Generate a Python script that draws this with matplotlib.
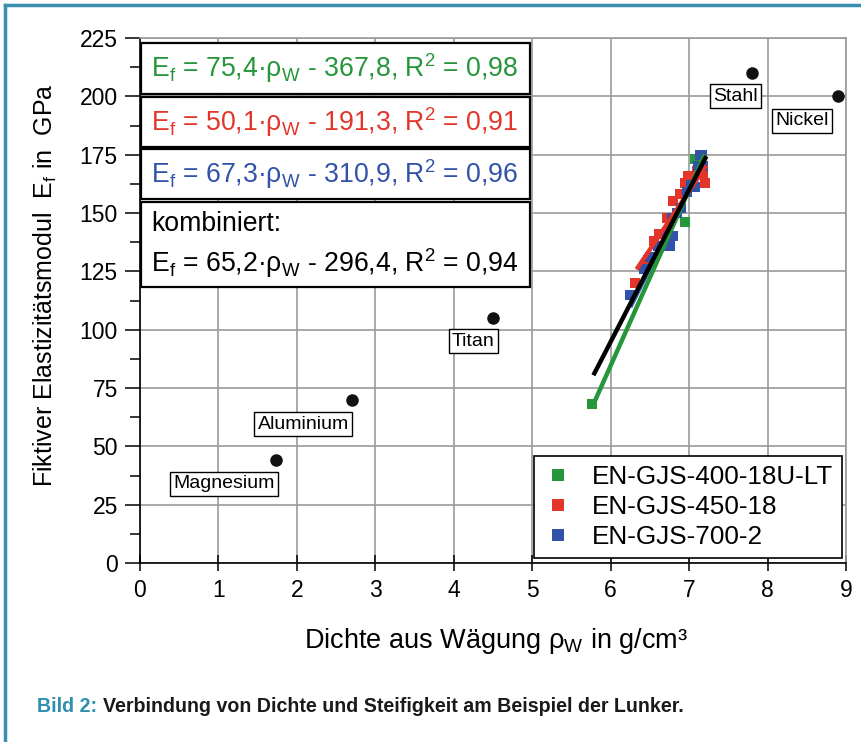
import matplotlib
matplotlib.use("Agg")
import matplotlib.pyplot as plt
from matplotlib.lines import Line2D
from matplotlib.patches import Rectangle
import numpy as np

plt.rcParams["font.family"] = ["Liberation Sans", "DejaVu Sans"]
plt.rcParams["mathtext.fontset"] = "custom"
plt.rcParams["mathtext.rm"] = "Liberation Sans"
plt.rcParams["mathtext.it"] = "Liberation Sans:italic"
plt.rcParams["mathtext.bf"] = "Liberation Sans:bold"
plt.rcParams["mathtext.sf"] = "Liberation Sans"

# reference metals
metal_names = ["Magnesium", "Aluminium", "Titan", "Stahl", "Nickel"]
metal_rho = [1.74, 2.70, 4.50, 7.80, 8.90]
metal_E = [44, 70, 105, 210, 200]
label_x = [1.07, 2.08, 4.25, 7.59, 8.44]
label_y = [34, 59.5, 95, 200, 189.5]

# cast iron samples
gjs400_rho = [5.76, 6.95, 7.05, 7.08, 7.12, 7.15]
gjs400_E = [68, 146, 165, 173, 170, 168]
gjs450_rho = [6.31, 6.48, 6.55, 6.62, 6.72, 6.80, 6.88, 6.95, 6.98, 7.05, 7.10, 7.18, 7.20]
gjs450_E = [120, 130, 138, 141, 148, 155, 158, 163, 166, 162, 168, 167, 163]
gjs700_rho = [6.25, 6.42, 6.50, 6.60, 6.67, 6.72, 6.76, 6.78, 6.80, 6.85, 6.90,
              6.97, 7.02, 7.08, 7.11, 7.14, 7.16, 7.18]
gjs700_E = [115, 126, 131, 136, 136, 142, 136, 148, 140, 150, 152,
            159, 162, 161, 170, 175, 175, 170]

series_labels = ["EN-GJS-400-18U-LT", "EN-GJS-450-18", "EN-GJS-700-2"]
series_colors = ["#25963a", "#e4352b", "#3152a8"]

# linear fits: slope, intercept, x range
fit_slope = [75.4, 50.1, 67.3, 65.2]
fit_icpt = [-367.8, -191.3, -310.9, -296.4]
fit_lo = [5.76, 6.33, 6.25, 5.78]
fit_hi = [7.20, 7.22, 7.20, 7.22]
fit_r2 = ["0,98", "0,91", "0,96", "0,94"]
fit_colors = ["#25963a", "#e4352b", "#3152a8", "#000000"]

fig = plt.figure(figsize=(8.62, 7.42), dpi=100)
ax = fig.add_axes([140 / 862, 1 - 563 / 742, 706 / 862, 525 / 742])

ax.set_xlim(0, 9)
ax.set_ylim(0, 225)
ax.set_xticks(np.arange(0, 10, 1))
ax.set_yticks(np.arange(0, 226, 25))
ax.set_yticks(np.arange(12.5, 225, 25), minor=True)
ax.grid(True, which="major", color="#9a9a9a", linewidth=1.2, zorder=0)
ax.set_axisbelow(True)
for s in ["top", "right"]:
    ax.spines[s].set_color("#9a9a9a")
    ax.spines[s].set_linewidth(1.2)
for s in ["left", "bottom"]:
    ax.spines[s].set_linewidth(1.2)
ax.tick_params(axis="y", which="major", direction="out", length=11, width=1.1,
               labelsize=16.5, pad=5)
ax.tick_params(axis="y", which="minor", direction="out", length=7, width=1.1)
ax.tick_params(axis="x", direction="inout", length=11, width=1.1,
               labelsize=16.5, pad=6)

# points
for rho, E, c in zip([gjs400_rho, gjs450_rho, gjs700_rho],
                     [gjs400_E, gjs450_E, gjs700_E], series_colors):
    ax.plot(rho, E, "s", color=c, markersize=7.5, markeredgewidth=0, zorder=3)

# fit lines (blue, red, green, black)
for i in [2, 1, 0, 3]:
    xs = np.array([fit_lo[i], fit_hi[i]])
    ax.plot(xs, fit_slope[i] * xs + fit_icpt[i], color=fit_colors[i],
            linewidth=3.2, solid_capstyle="butt", zorder=4)

ax.plot(metal_rho, metal_E, "o", color="#111111", markersize=8, zorder=5)
for name, lx, ly in zip(metal_names, label_x, label_y):
    ax.text(lx, ly, name, ha="center", va="center", fontsize=14, zorder=6,
            bbox=dict(boxstyle="square,pad=0.18", fc="white", ec="black", lw=1.0))

# equation boxes
box_tops = [0.9905, 0.8876, 0.7886, 0.6876]
box_bots = [0.8933, 0.7924, 0.6933, 0.5257]
for k in range(4):
    ax.add_patch(Rectangle((0.002, box_bots[k]), 0.5505, box_tops[k] - box_bots[k],
                           transform=ax.transAxes, fc="white", ec="black",
                           lw=1.6, zorder=7))
    a = f"{fit_slope[k]:.1f}".replace(".", ",")
    b = f"{-fit_icpt[k]:.1f}".replace(".", ",")
    eq = (r"E$_\mathregular{f}$ = " + a + r"·ρ$_\mathregular{W}$ - " + b +
          r", R$^\mathregular{2}$ = " + fit_r2[k])
    if k < 3:
        yc = 0.5 * (box_tops[k] + box_bots[k])
        ax.text(0.016, yc, eq, transform=ax.transAxes, ha="left", va="center",
                fontsize=19.2, color=fit_colors[k], zorder=8)
    else:
        ax.text(0.016, 0.645, "kombiniert:", transform=ax.transAxes, ha="left",
                va="center", fontsize=19.2, color="black", zorder=8)
        ax.text(0.016, 0.572, eq, transform=ax.transAxes, ha="left",
                va="center", fontsize=19.2, color="black", zorder=8)

handles = [Line2D([], [], marker="s", linestyle="none", color=c, markersize=8,
                  markeredgewidth=0) for c in series_colors]
leg = ax.legend(handles, series_labels, loc="lower right",
                bbox_to_anchor=(0.9943, 0.0095), fontsize=18.8, frameon=True,
                fancybox=False, edgecolor="black", framealpha=1,
                handletextpad=0.75, labelspacing=0.22, borderpad=0.35,
                handlelength=1.1, borderaxespad=0)
leg.get_frame().set_linewidth(1.2)
leg.set_zorder(9)

fig.text(45 / 862, 1 - 285 / 742,
         r"Fiktiver Elastizitätsmodul  E$_\mathregular{f}$ in  GPa",
         rotation=90, ha="center", va="center", fontsize=18)
fig.text(496 / 862, 1 - 641 / 742,
         r"Dichte aus Wägung ρ$_\mathregular{W}$ in g/cm³",
         ha="center", va="center", fontsize=19.5)

# caption
cap_y = 1 - 706 / 742
t1 = fig.text(37 / 862, cap_y, "Bild 2: ", color="#2f8fb0", fontsize=14.1,
              ha="left", va="center", weight="bold")
fig.canvas.draw()
x_end = t1.get_window_extent().x1 / fig.bbox.width
fig.text(x_end, cap_y,
         "Verbindung von Dichte und Steifigkeit am Beispiel der Lunker.",
         color="#1a1a1a", fontsize=14.1, ha="left", va="center", weight="bold")

# frame
fig.add_artist(Line2D([5 / 862, 1.0], [1 - 5 / 742, 1 - 5 / 742],
                      transform=fig.transFigure, color="#3a8fae", linewidth=2.5))
fig.add_artist(Line2D([5 / 862, 5 / 862], [0, 1 - 5 / 742],
                      transform=fig.transFigure, color="#3a8fae", linewidth=2.5))

fig.savefig("out.png", dpi=100)
